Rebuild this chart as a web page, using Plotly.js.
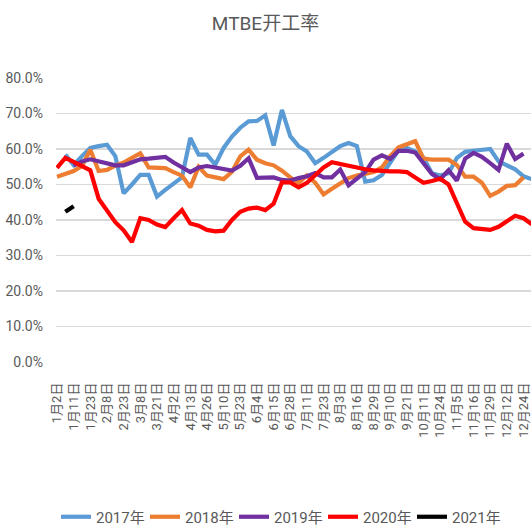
<!DOCTYPE html>
<html>
<head>
<meta charset="utf-8">
<script src="https://cdn.plot.ly/plotly-3.0.1.min.js"></script>
<style>html,body{margin:0;padding:0;background:#fff;}#chart{width:531px;height:531px;}</style>
</head>
<body>
<div id="chart"></div>
<script>
const categories = ["1月2日","1月5日","1月11日","1月16日","1月23日","1月31日","2月8日","2月15日","2月23日","3月1日",
"3月8日","3月15日","3月21日","3月28日","4月2日","4月8日","4月13日","4月19日","4月26日","5月3日",
"5月10日","5月16日","5月23日","5月29日","6月4日","6月10日","6月15日","6月21日","6月28日","7月5日",
"7月11日","7月17日","7月23日","7月28日","8月3日","8月9日","8月16日","8月22日","8月29日","9月4日",
"9月10日","9月15日","9月21日","9月28日","10月11日","10月17日","10月24日","10月30日","11月5日","11月10日",
"11月16日","11月22日","11月29日","12月5日","12月12日","12月18日","12月24日","12月30日"];

const tickLabels = categories.filter((c, i) => i % 2 === 0);

const y2017 = [null,58.4,55.5,58,60.3,60.8,61.2,58,47.5,50,52.7,52.7,46.6,48.5,50.3,52,63.1,58.4,58.4,55.6,
60.3,63.5,66,67.8,67.9,69.5,61,71,63.6,60.8,59.3,56,57.5,59,60.8,61.7,60.8,50.8,51.2,52.7,
56,59.6,60.3,59.3,57.5,53.2,52.5,53.2,57.5,59.2,59.5,59.8,60,56.5,55.4,54.3,52.3,51.5];

const y2018 = [52.2,53,53.8,55.2,59.8,53.8,54.1,55.3,56.2,57.5,58.8,54.8,54.8,54.6,53.5,52.5,49.2,55,52.5,52,
51.5,53.6,57.9,59.8,57,56,55.4,53.9,52,50.5,52.5,50.5,47.2,48.8,50.2,51.8,52.5,53,53.5,54.8,
58,60.5,61.5,62.2,57.3,57,57,57,55.5,52.2,52.2,50.5,46.8,48,49.6,49.8,52,null];

const y2019 = [null,null,55.3,56.5,57.1,56.5,55.7,55.4,55.4,56.3,57.1,57.3,57.5,57.8,56.2,55,53.5,54.8,55.2,54.8,
54.4,53.9,55.3,57.4,51.9,52,52,51.3,51.1,51.8,52.3,53.2,52,52,54.2,49.8,51.5,53.5,57,58.2,
57.2,59.5,59.5,59,56,53,51.5,54,51.1,57.3,58.9,57.8,56,54.1,61.5,57.2,58.7,null];

const y2020 = [54.7,57.5,56.4,55.2,54,46,42.8,39.4,37.1,33.8,40.5,40,38.7,38,40.5,42.8,39,38.4,37.2,36.8,
37,40,42.3,43.2,43.5,42.8,44.6,50.6,50.6,49.2,50.5,52.7,54.8,56.3,55.8,55,54.6,54.3,54,53.8,
53.7,53.7,53.5,52,50.5,51,51.6,50,44.5,39.5,37.7,37.4,37.2,38.1,39.8,41.2,40.5,38.8];

const y2021 = [null,42.3,43.9];

const seriesNames = ["2017年","2018年","2019年","2020年","2021年"];
const seriesData = [y2017, y2018, y2019, y2020, y2021];
const seriesColors = ["#5B9BD5","#ED7D31","#7030A0","#FF0000","#000000"];

const FONT = "Roboto, 'Noto Sans CJK SC', sans-serif";

const traces = seriesData.map((vals, k) => ({
  type: "scatter",
  mode: "lines",
  name: seriesNames[k],
  x: categories.slice(0, vals.length),
  y: vals.map(v => v === null ? null : v / 100),
  line: {color: seriesColors[k], width: 4.2},
  connectgaps: false,
  hoverinfo: "skip"
}));

const layout = {
  width: 531, height: 531,
  margin: {l: 56, r: 0, t: 78, b: 169},
  paper_bgcolor: "#ffffff",
  plot_bgcolor: "#ffffff",
  font: {family: FONT, color: "#595959"},
  title: {
    text: "MTBE开工率",
    font: {family: FONT, size: 19, color: "#595959"},
    x: 0.5, xref: "container", xanchor: "center",
    y: 1 - 23/531, yref: "container", yanchor: "middle"
  },
  showlegend: true,
  legend: {
    orientation: "h",
    x: 56/531, xref: "container", xanchor: "left",
    y: 1 - 517/531, yref: "container", yanchor: "middle",
    font: {family: FONT, size: 15, color: "#595959"},
    itemwidth: 30,
    entrywidth: 44,
    traceorder: "normal"
  },
  xaxis: {
    type: "category",
    categoryorder: "array",
    categoryarray: categories,
    range: [-0.12, 56.9],
    tickmode: "array",
    tickvals: tickLabels,
    ticktext: tickLabels,
    tickangle: -90,
    tickfont: {family: FONT, size: 13, color: "#595959"},
    showgrid: false,
    zeroline: false,
    showline: false,
    ticks: "",
    ticklabelstandoff: 17,
    fixedrange: true
  },
  yaxis: {
    range: [0, 0.8],
    tickmode: "linear",
    tick0: 0,
    dtick: 0.1,
    tickformat: ".1%",
    tickfont: {family: FONT, size: 14, color: "#595959"},
    showgrid: true,
    gridcolor: "#d9d9d9",
    gridwidth: 1.5,
    zeroline: false,
    showline: false,
    ticks: "",
    ticklabelstandoff: 12,
    fixedrange: true
  }
};

Plotly.newPlot("chart", traces, layout, {staticPlot: true, displayModeBar: false});
</script>
</body>
</html>
